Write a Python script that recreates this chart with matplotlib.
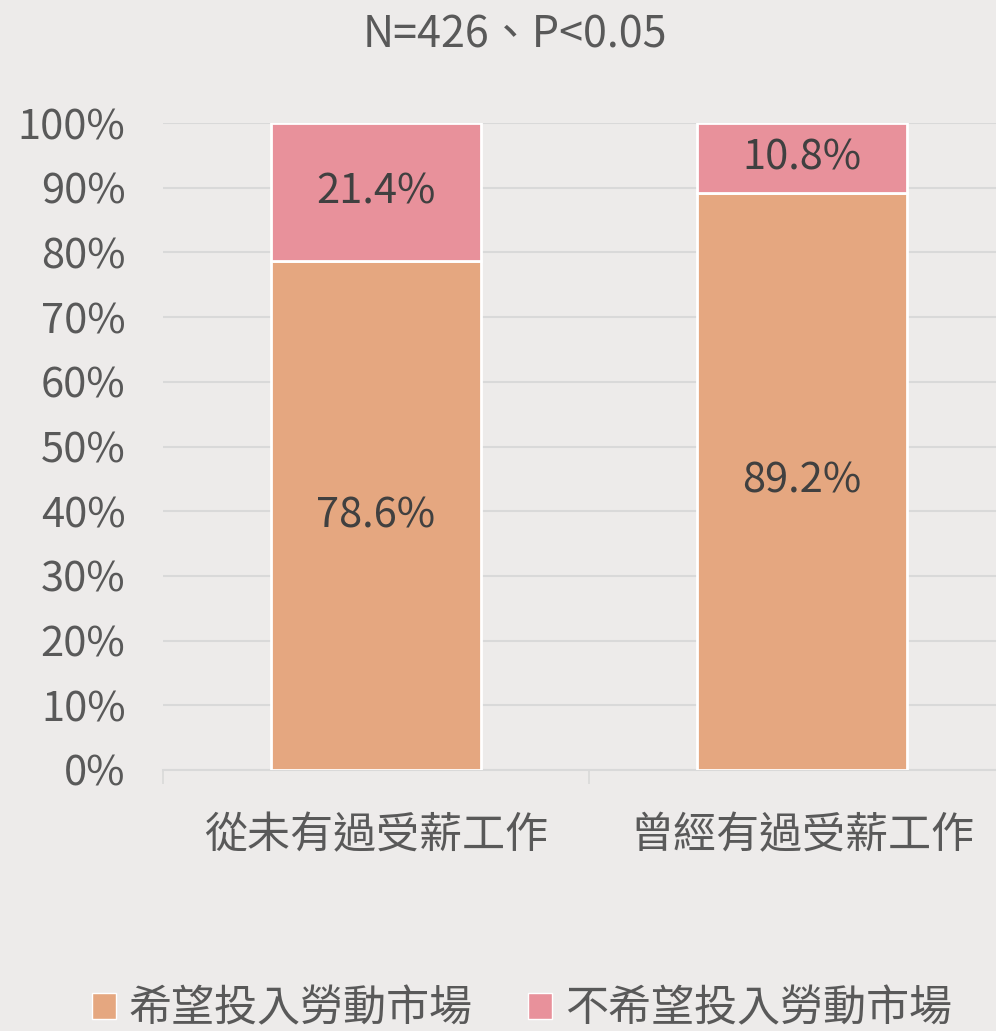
import numpy as np
import matplotlib.pyplot as plt
from matplotlib.patches import Patch

plt.rcParams["font.family"] = ["Noto Sans CJK TC", "DejaVu Sans"]

categories = ["從未有過受薪工作", "曾經有過受薪工作"]
series_names = ["希望投入勞動市場", "不希望投入勞動市場"]
want = [78.6, 89.2]
not_want = [21.4, 10.8]
yticks = [0, 10, 20, 30, 40, 50, 60, 70, 80, 90, 100]
title = "N=426、P<0.05"

bg = "#EDEBEA"
c_want = "#E5A780"
c_not = "#E8919B"
txt = "#595959"

fig = plt.figure(figsize=(9.96, 10.31), dpi=100, facecolor=bg)
ax = fig.add_axes([163 / 996, 261 / 1031, 852 / 996, 647 / 1031])
ax.set_facecolor(bg)

x = np.arange(len(categories))
ax.bar(x, want, width=0.495, color=c_want, edgecolor="white", linewidth=2, zorder=3)
ax.bar(x, not_want, bottom=want, width=0.495, color=c_not, edgecolor="white", linewidth=2, zorder=3)

for i in range(len(categories)):
    ax.text(x[i], want[i] / 2, f"{want[i]:.1f}%", ha="center", va="center",
            fontsize=30, color="#404040", zorder=4)
    ax.text(x[i], want[i] + not_want[i] / 2, f"{not_want[i]:.1f}%", ha="center", va="center",
            fontsize=30, color="#404040", zorder=4)

ax.set_xlim(-0.5, 1.5)
ax.set_ylim(0, 100)
ax.set_yticks(yticks)
ax.set_yticklabels([f"{v}%" for v in yticks])
ax.yaxis.grid(True, color="#D9D9D9", linewidth=1.5, zorder=0)
ax.tick_params(axis="y", length=0, pad=27, labelsize=30, labelcolor=txt)

ax.set_xticks(x)
ax.set_xticklabels(categories)
ax.set_xticks([-0.5, 0.5, 1.5], minor=True)
ax.tick_params(axis="x", which="major", length=0, pad=32, labelsize=31, labelcolor=txt)
ax.tick_params(axis="x", which="minor", length=10, width=1.2, color="#D9D9D9")

for s in ["top", "right", "left"]:
    ax.spines[s].set_visible(False)
ax.spines["bottom"].set_color("#D9D9D9")
ax.spines["bottom"].set_linewidth(1.5)

fig.text(515 / 996, 1 - 36 / 1031, title, ha="center", va="center", fontsize=31, color=txt)

handles = [Patch(facecolor=c_want, edgecolor="white"), Patch(facecolor=c_not, edgecolor="white")]
fig.legend(handles, series_names, loc="center", bbox_to_anchor=(522 / 996, 1 - 1009 / 1031),
           ncol=2, frameon=False, fontsize=31, labelcolor=txt, handlelength=0.55,
           handleheight=0.55, handletextpad=0.3, columnspacing=1.3)

fig.savefig("out.png", dpi=100, facecolor=bg)
